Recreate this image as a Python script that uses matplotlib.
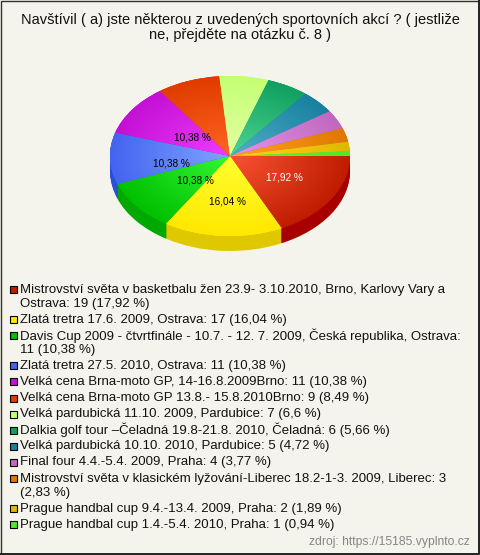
import numpy as np
import matplotlib
matplotlib.use("Agg")
import matplotlib.pyplot as plt
from matplotlib.colors import LinearSegmentedColormap
from matplotlib.patches import Rectangle
from matplotlib.transforms import ScaledTranslation

plt.rcParams['font.family'] = ['Liberation Sans', 'DejaVu Sans']

TITLE = "Navštívil ( a) jste některou z uvedených sportovních akcí ? ( jestliže\nne, přejděte na otázku č. 8 )"
SOURCE = "zdroj: https://15185.vyplnto.cz"

values = [19, 17, 11, 11, 11, 9, 7, 6, 5, 4, 3, 2, 1]

labels = [
    "Mistrovství světa v basketbalu žen 23.9- 3.10.2010, Brno, Karlovy Vary a\nOstrava: 19 (17,92 %)",
    "Zlatá tretra 17.6. 2009, Ostrava: 17 (16,04 %)",
    "Davis Cup 2009 - čtvrtfinále - 10.7. - 12. 7. 2009, Česká republika, Ostrava:\n11 (10,38 %)",
    "Zlatá tretra 27.5. 2010, Ostrava: 11 (10,38 %)",
    "Velká cena Brna-moto GP, 14-16.8.2009Brno: 11 (10,38 %)",
    "Velká cena Brna-moto GP 13.8.- 15.8.2010Brno: 9 (8,49 %)",
    "Velká pardubická 11.10. 2009, Pardubice: 7 (6,6 %)",
    "Dalkia golf tour –Čeladná 19.8-21.8. 2010, Čeladná: 6 (5,66 %)",
    "Velká pardubická 10.10. 2010, Pardubice: 5 (4,72 %)",
    "Final four 4.4.-5.4. 2009, Praha: 4 (3,77 %)",
    "Mistrovství světa v klasickém lyžování-Liberec 18.2-1-3. 2009, Liberec: 3\n(2,83 %)",
    "Prague handbal cup 9.4.-13.4. 2009, Praha: 2 (1,89 %)",
    "Prague handbal cup 1.4.-5.4. 2010, Praha: 1 (0,94 %)",
]

inner_colors = ["#f85434", "#ffff30", "#34f834", "#80a4ff", "#f03cff", "#ff6424",
                "#e4ffa4", "#50d494", "#50b0c8", "#e494e8", "#ffa424", "#ffd424", "#64f434"]
rim_colors = ["#c01c00", "#ffe800", "#00c000", "#4464f0", "#c410d4", "#e03c00",
              "#c4ff74", "#10a060", "#1880a0", "#c068c0", "#e07800", "#e0b800", "#50e828"]
side_colors = ["#a80000", "#e0c800", "#00a800", "#2850d8", "#a000b0", "#b82800",
               "#a0d850", "#088048", "#106078", "#a04898", "#b86000", "#b89800", "#30c018"]
label_colors = ["white"] + ["black"] * 12

W, H = 480, 555
BG = "#f5f4ec"

fig = plt.figure(figsize=(W / 100, H / 100), dpi=100, facecolor=BG)

# pixel overlay for title, legend, frame
bg = fig.add_axes([0, 0, 1, 1])
bg.set_xlim(0, W)
bg.set_ylim(H, 0)
bg.axis('off')

# -------- PIE --------
cx, cy, rx, ry, depth = 230, 156, 120, 80, 15
ax = fig.add_axes([(cx - rx) / W, 1 - (cy + ry + depth + 1) / H,
                   2 * rx / W, (2 * ry + depth + 1) / H])
ylow = -1 - (depth + 1) / ry

# side wall: same pie stacked downwards
for off in range(depth, 0, -1):
    ax.pie(values, colors=side_colors, startangle=0, counterclock=False, radius=1,
           center=(0, -off / ry), wedgeprops=dict(linewidth=0))

wedges, _, autotexts = ax.pie(
    values, colors=rim_colors, startangle=0, counterclock=False, radius=1,
    wedgeprops=dict(linewidth=0), pctdistance=0.52,
    autopct=lambda p: f"{p:.2f} %".replace(".", ",") if p >= 10 else "",
    textprops=dict(fontsize=7.2))

# the labels do not sit exactly on the slice middle in the original (px)
nudge = [(2, -1), (1, 4), (14, -2), (4, 6), (13, 6)]
for t, c, (dx, dy) in zip(autotexts, label_colors, nudge):
    t.set_color(c)
    t.set_zorder(5)
    t.set_transform(ax.transData + ScaledTranslation(dx / 100, -dy / 100, fig.dpi_scale_trans))
for t in autotexts[len(nudge):]:
    t.set_visible(False)

# radial shading inside every wedge
xx, yy = np.meshgrid(np.linspace(-1, 1, 480), np.linspace(-1, 1, 320))
rr = np.clip(np.hypot(xx, yy), 0, 1)
for w, c0, c1 in zip(wedges, inner_colors, rim_colors):
    cmap = LinearSegmentedColormap.from_list("w", [c0, c1])
    im = ax.imshow(rr, cmap=cmap, vmin=0, vmax=1, extent=(-1, 1, -1, 1),
                   origin='lower', aspect='auto', zorder=2, interpolation='bilinear')
    im.set_clip_path(w)

# thin ring on top, image clipping leaves a jagged outer edge
ax.pie(values, colors=rim_colors, startangle=0, counterclock=False, radius=1,
       wedgeprops=dict(width=0.012, linewidth=0, zorder=3))

ax.set_aspect('auto')
ax.set_xlim(-1, 1)
ax.set_ylim(ylow, 1)

# -------- TITLE --------
bg.text(240, 27.5, TITLE, ha='center', va='center', fontsize=10.5, color="#111111",
        linespacing=1.15)

# -------- LEGEND --------
y = 289.5
for lab, col in zip(labels, rim_colors):
    bg.add_patch(Rectangle((9.5, y - 3.5), 7, 7, facecolor=col, edgecolor="black", linewidth=0.8))
    for line in lab.split("\n"):
        bg.text(20, y, line, ha='left', va='center', fontsize=9.55, color="#111111")
        y += 14
    y += 2.1

bg.text(470, 542.5, SOURCE, ha='right', va='center', fontsize=8.7, color="#858585")

# outer frame, heavier on right and bottom
bg.add_patch(Rectangle((0.5, 0.5), W - 1, H - 1, fill=False, edgecolor="#333333", linewidth=1))
bg.plot([W - 1, W - 1, 0], [0, H - 1, H - 1], color="#222222", linewidth=1.4, clip_on=False)

fig.savefig("out.png", dpi=100, facecolor=BG)
